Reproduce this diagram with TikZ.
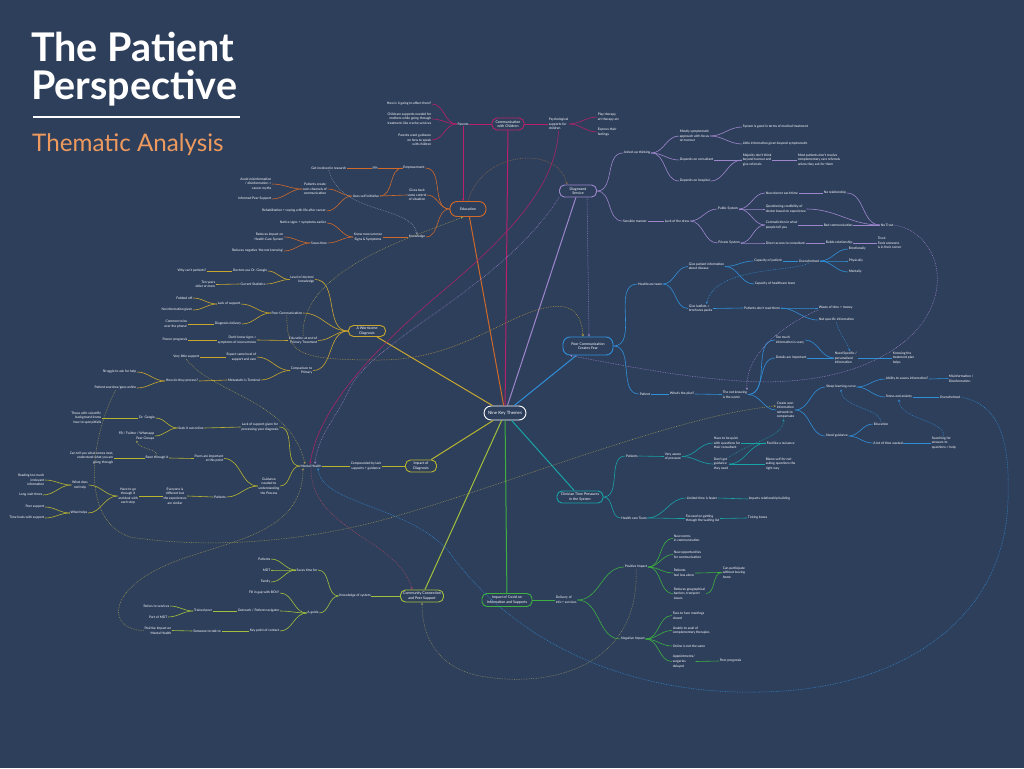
\documentclass[tikz,border=0pt]{standalone}
\usepackage{fontspec}
\setmainfont{Lato}
\usetikzlibrary{arrows.meta}
\definecolor{bg}{HTML}{2E3F5C}
\definecolor{cM}{HTML}{B8206A}
\definecolor{cO}{HTML}{CF6A2A}
\definecolor{cP}{HTML}{9E86CC}
\definecolor{cG}{HTML}{C9A62E}
\definecolor{cB}{HTML}{2F8FD8}
\definecolor{cY}{HTML}{B7B530}
\definecolor{cT}{HTML}{18A3A6}
\definecolor{cV}{HTML}{A3C03C}
\definecolor{cN}{HTML}{3DB040}
\definecolor{cGr}{HTML}{8A929E}
\definecolor{cBr}{HTML}{9A6A45}
\definecolor{cOl}{HTML}{A09C50}
\definecolor{cRd}{HTML}{B04A5E}
\definecolor{ttlor}{HTML}{EE9A5E}
\newcommand\smf{\fontsize{3.3}{4.6}\selectfont}
\newcommand\bxf{\fontsize{3.6}{4.6}\selectfont}
\newcommand\bxlf{\fontsize{4.4}{5}\selectfont}
\begin{document}
\begin{tikzpicture}[x=1pt,y=-1pt,
 txt/.style={text=white,font=\smf,inner sep=0.6pt},
 txl/.style={txt,anchor=east,align=right},
 txr/.style={txt,anchor=west,align=left},
 txc/.style={txt,align=center},
 tbox/.style={draw,line width=0.9pt,rounded corners=5pt,fill=bg,text=white,font=\bxf,align=center,inner sep=0.8pt},
 bz/.style={line width=0.6pt},
 lnM/.style={bz,draw=cM}, lnO/.style={bz,draw=cO}, lnP/.style={bz,draw=cP},
 lnG/.style={bz,draw=cG}, lnB/.style={bz,draw=cB}, lnY/.style={bz,draw=cY},
 lnT/.style={bz,draw=cT}, lnV/.style={bz,draw=cV}, lnN/.style={bz,draw=cN},
 mainln/.style={line width=1pt},
 dl/.style={line width=0.5pt,dash pattern=on 0.7pt off 1pt,-{Stealth[length=2.4pt,width=2.2pt]}},
 sl/.style={line width=0.5pt,-{Stealth[length=2.4pt,width=2.2pt]}}
]
\fill[bg] (0,0) rectangle (1024,768);
\useasboundingbox (0,0) rectangle (1024,768);

% ---------------- title
\node[anchor=base west,text=white,font=\fontsize{39.5}{42}\selectfont\bfseries,inner sep=0] (ttla) at (31,62) {The Patient};
\node[anchor=base west,text=white,font=\fontsize{39.5}{42}\selectfont\bfseries,inner sep=0] (ttlb) at (31,99) {Perspective};
\coordinate (rulea) at (33,117);
\coordinate (ruleb) at (240,117);
\draw[white,line width=1.3pt] (rulea) -- (ruleb);
\node[anchor=base west,text=ttlor,font=\fontsize{24.2}{27}\selectfont,inner sep=0] (ttlc) at (32,151) {Thematic Analysis};

% ---------------- central and themes
\node[tbox,draw=white,font=\bxlf,minimum width=42pt,minimum height=14pt,rounded corners=7pt] (nkt) at (505,413) {Nine Key Themes};
\node[tbox,draw=cM,minimum width=32pt,minimum height=12pt] (cwc) at (508,124) {Communication\\with Children};
\node[tbox,draw=cO,minimum width=36pt,minimum height=15pt,rounded corners=7pt] (edu) at (468,209) {Education};
\node[tbox,draw=cP,minimum width=37pt,minimum height=12pt] (ds) at (578,191) {Diagnosed\\Service};
\node[tbox,draw=cG,minimum width=37pt,minimum height=11pt] (wd) at (367,331) {A Worrisome\\Diagnosis};
\node[tbox,draw=cB,minimum width=50pt,minimum height=18pt,rounded corners=7pt] (pccf) at (588,346) {Poor Communication\\Creates Fear};
\node[tbox,draw=cY,minimum width=31pt,minimum height=12pt] (iod) at (421,466) {Impact of\\Diagnosis};
\node[tbox,draw=cT,minimum width=46pt,minimum height=12pt] (ctp) at (580,497) {Clinician Time Pressures\\in the System};
\node[tbox,draw=cV,minimum width=43pt,minimum height=12pt] (ccps) at (422,596) {Community Connection\\and Peer Support};
\node[tbox,draw=cN,minimum width=50pt,minimum height=13pt] (icov) at (507,600) {Impact of Covid on\\Information and Supports};

\draw[mainln,draw=cM] (cwc) -- (nkt);
\draw[mainln,draw=cO] (edu) -- (nkt);
\draw[mainln,draw=cP] (ds) -- (nkt);
\draw[mainln,draw=cG] (wd) -- (nkt);
\draw[mainln,draw=cB] (pccf) -- (nkt);
\draw[mainln,draw=cY] (iod) -- (nkt);
\draw[mainln,draw=cT] (ctp) -- (nkt);
\draw[mainln,draw=cV] (ccps) -- (nkt);
\draw[mainln,draw=cN] (icov) -- (nkt);

% ---------------- Communication with Children
\node[txc] (par) at (463,124) {Parents};
\node[txl] (p1) at (432,104) {How is it going to affect them?};
\node[txl] (p2) at (432,119) {Childcare supports needed for\\mothers while going through\\treatment, like creche services};
\node[txl] (p3) at (432,140) {Parents want guidance\\on how to speak\\with children};
\node[txr] (psy) at (548,124) {Psychological\\supports for\\children};
\node[txr] (pl) at (597,117) {Play therapy,\\art therapy etc};
\node[txr] (ex) at (597,132) {Express their\\feelings};
\draw[lnM] (cwc.west) -- (par.east);
\foreach \c in {p1,p2,p3} \draw[lnM] (par.west) to[out=180,in=0] (\c.east);
\draw[lnM] (cwc.east) -- (psy.west);
\foreach \c in {pl,ex} \draw[lnM] (psy.east) to[out=0,in=180] (\c.west);

% ---------------- Education
\node[txc] (emp) at (414,168) {Empowerment};
\node[txc] (gbc) at (417,195) {Gives back\\some control\\of situation};
\node[txc] (kno) at (417,237) {Knowledge};
\node[txc] (ppi) at (375,168) {PPI};
\node[txl] (gir) at (347,168) {Get involved in research};
\node[txc] (usi) at (366,196) {Uses self initiative};
\node[txc] (pco) at (315,189) {Patients create\\own channels of\\communication};
\node[txl] (am) at (272,184) {Avoid misinformation\\/ disinformation =\\cancer myths};
\node[txl] (ips) at (272,199) {Informed Peer Support};
\node[txc] (reh) at (294,211) {Rehabilitation + coping with life after cancer};
\node[txc] (krs) at (368,237) {Know reoccurrence\\Signs \& Symptoms};
\node[txc] (nse) at (303,223) {Notice signs + symptoms earlier};
\node[txc] (sav) at (319,243) {Saves time};
\node[txl] (rih) at (284,237) {Reduces impact on\\Health Care System};
\node[txl] (rnn) at (284,251) {Reduces negative `the not knowing'};
\foreach \c in {emp,gbc,kno} \draw[lnO] (edu.west) to[out=180,in=0] (\c.east);
\draw[lnO] (emp.west) -- (ppi.east);
\draw[lnO] (ppi.west) -- (gir.east);
\draw[lnO] (gbc.west) -- (usi.east);
\draw[lnO] (emp.west) to[out=180,in=0] (usi.east);
\foreach \c in {pco,reh} \draw[lnO] (usi.west) to[out=180,in=0] (\c.east);
\foreach \c in {am,ips} \draw[lnO] (pco.west) to[out=180,in=0] (\c.east);
\draw[lnO] (kno.west) -- (krs.east);
\foreach \c in {nse,sav} \draw[lnO] (krs.west) to[out=180,in=0] (\c.east);
\foreach \c in {rih,rnn} \draw[lnO] (sav.west) to[out=180,in=0] (\c.east);

% ---------------- Diagnosed Service
\node[txc] (jut) at (637,153) {Joined-up thinking};
\node[txc] (sen) at (635,221) {Sensible manner};
\node[txr] (msa) at (679,136) {Mostly symptomatic\\approach with focus\\on tumour};
\node[txr] (doc) at (679,160) {Depends on consultant};
\node[txr] (doh) at (679,181) {Depends on hospital};
\node[txr] (sys) at (742,127) {System is good in terms of medical treatment};
\node[txr] (lig) at (742,144) {Little information given beyond symptomatic};
\node[txr] (maj) at (742,160) {Majority don't think\\beyond tumour and\\give referrals};
\node[txr] (mpc) at (797,160) {Most patients don't receive\\complementary care referrals\\unless they ask for them};
\node[txc] (lod) at (677,221) {Luck of the draw};
\node[txc] (pub) at (728,209) {Public System};
\node[txc] (pri) at (729,243) {Private System};
\node[txr] (ndr) at (765,193) {New doctor each time};
\node[txr] (qcd) at (765,209) {Questioning credibility of\\doctor based on experience};
\node[txr] (con) at (765,225) {Contradiction in what\\people tell you};
\node[txr] (dac) at (765,243) {Direct access to consultant};
\node[txr] (nrl) at (823,193) {No relationship};
\node[txr] (bad) at (823,225) {Bad communication};
\node[txr] (ntr) at (880,225) {No Trust};
\node[txr] (bre) at (825,243) {Builds relationship};
\node[txr] (tru) at (877,243) {Trust:\\Feels someone\\is in their corner};
\foreach \c in {jut,sen} \draw[lnP] (ds.east) to[out=0,in=180] (\c.west);
\foreach \c in {msa,doc,doh} \draw[lnP] (jut.east) to[out=0,in=180] (\c.west);
\foreach \c in {sys,lig} \draw[lnP] (msa.east) to[out=0,in=180] (\c.west);
\draw[lnP] (doc.east) -- (maj.west);
\draw[lnP] (doh.east) to[out=0,in=180] (maj.west);
\draw[lnP] (maj.east) -- (mpc.west);
\draw[lnP] (sen.east) -- (lod.west);
\foreach \c in {pub,pri} \draw[lnP] (lod.east) to[out=0,in=180] (\c.west);
\foreach \c in {ndr,qcd,con} \draw[lnP] (pub.east) to[out=0,in=180] (\c.west);
\foreach \c in {con,dac} \draw[lnP] (pri.east) to[out=0,in=180] (\c.west);
\draw[lnP] (ndr.east) -- (nrl.west);
\draw[lnP] (con.east) -- (bad.west);
\draw[lnP] (bad.east) -- (ntr.west);
\draw[lnP] (nrl.east) to[out=0,in=180] (ntr.west);
\draw[lnP] (qcd.east) to[out=0,in=180] (ntr.west);
\draw[lnP] (dac.east) -- (bre.west);
\draw[lnP] (bre.east) -- (tru.west);

% ---------------- A Worrisome Diagnosis
\node[txl] (ldk) at (315,279.5) {Level of doctors'\\knowledge};
\node[txl] (pcm) at (303,313) {Poor Communication};
\node[txl] (eep) at (318,340.5) {Education at end of\\Primary Treatment};
\node[txl] (cpr) at (313,370.5) {Comparison to\\Primary};
\node[txc] (dug) at (250,271) {Doctors use Dr. Google};
\node[txc] (cst) at (253,284) {Current Statistics};
\node[txl] (wcp) at (207,271) {Why can't patients?};
\node[txl] (tyo) at (216,284.5) {Ten years\\older or more};
\node[txc] (los) at (229,304) {Lack of support};
\node[txc] (ddl) at (228,324) {Diagnosis delivery};
\node[txl] (fob) at (193,298) {Fobbed off};
\node[txl] (nig) at (193,310) {No information given};
\node[txl] (cop) at (188,324) {Common to be\\over the phone!};
\node[txl] (dks) at (257,340) {Don't know signs =\\symptoms of reoccurrence};
\node[txl] (ppg) at (188,340) {Poorer prognosis};
\node[txl] (esl) at (257,357) {Expect same level of\\support and care};
\node[txc] (mit) at (244,380) {Metastatic is Terminal};
\node[txl] (vls) at (200,357) {Very little support};
\node[txc] (hdp) at (182,381) {How do they process?};
\node[txl] (sah) at (137,372) {Struggle to ask for help};
\node[txl] (pso) at (137,388) {Patient searches/goes online};
\foreach \c in {ldk,pcm,eep,cpr} \draw[lnG] (wd.west) to[out=180,in=0] (\c.east);
\foreach \c in {dug,cst} \draw[lnG] (ldk.west) to[out=180,in=0] (\c.east);
\draw[lnG] (dug.west) -- (wcp.east);
\draw[lnG] (cst.west) -- (tyo.east);
\foreach \c in {los,ddl} \draw[lnG] (pcm.west) to[out=180,in=0] (\c.east);
\foreach \c in {fob,nig} \draw[lnG] (los.west) to[out=180,in=0] (\c.east);
\draw[lnG] (ddl.west) -- (cop.east);
\draw[lnG] (eep.west) -- (dks.east);
\draw[lnG] (dks.west) -- (ppg.east);
\foreach \c in {esl,mit} \draw[lnG] (cpr.west) to[out=180,in=0] (\c.east);
\draw[lnG] (esl.west) -- (vls.east);
\draw[lnG] (mit.west) -- (hdp.east);
\foreach \c in {sah,pso} \draw[lnG] (hdp.west) to[out=180,in=0] (\c.east);

% ---------------- Impact of Diagnosis / Mental Health
\node[txc] (cbl) at (366,466) {Compounded by lack\\supports + guidance};
\node[txc] (mh) at (311,466) {Mental Health};
\node[txc] (lsg) at (260,427) {Lack of support given for\\processing your diagnosis};
\node[txc] (gnu) at (269,486) {Guidance\\needed to\\understanding\\the Process};
\node[txc] (sio) at (191,428) {Seek it out online};
\node[txc] (dgo) at (147,418) {Dr. Google};
\node[txl] (fbt) at (155,436) {FB / Twitter / Whatsapp\\Peer Groups};
\node[txl] (tsb) at (102,418) {Those with scientific\\background know\\how to spot pitfalls};
\node[txl] (pai) at (224,458.5) {Peers are important\\at this point};
\node[txc] (pat) at (220,497) {Patients};
\node[txc] (btt) at (157,458) {Been through it};
\node[txl] (ctn) at (114,458) {Can tell you what comes next,\\understand what you are\\going through};
\node[txc] (edb) at (175,496) {Everyone is\\different but\\the experiences\\are similar};
\node[txc] (htg) at (128,496) {Have to go\\through it\\and deal with\\each step};
\node[txc] (wdn) at (80,485) {What does\\not help};
\node[txc] (whp) at (79,513) {What helps};
\node[txl] (rtm) at (45,480) {Reading too much\\irrelevant\\information};
\node[txl] (lwt) at (43,495) {Long wait times};
\node[txl] (psp) at (45,507) {Peer support};
\node[txl] (thw) at (45,518) {Time heals with support};
\draw[lnY] (iod.west) -- (cbl.east);
\draw[lnY] (cbl.west) -- (mh.east);
\foreach \c in {lsg,gnu} \draw[lnY] (mh.west) to[out=180,in=0] (\c.east);
\draw[lnY] (lsg.west) -- (sio.east);
\foreach \c in {dgo,fbt} \draw[lnY] (sio.west) to[out=180,in=0] (\c.east);
\draw[lnY] (dgo.west) -- (tsb.east);
\foreach \c in {pai,pat} \draw[lnY] (gnu.west) to[out=180,in=0] (\c.east);
\draw[lnY] (pai.west) -- (btt.east);
\draw[lnY] (btt.west) -- (ctn.east);
\draw[lnY] (pat.west) -- (edb.east);
\draw[lnY] (edb.west) -- (htg.east);
\foreach \c in {wdn,whp} \draw[lnY] (htg.west) to[out=180,in=0] (\c.east);
\foreach \c in {rtm,lwt} \draw[lnY] (wdn.west) to[out=180,in=0] (\c.east);
\foreach \c in {psp,thw} \draw[lnY] (whp.west) to[out=180,in=0] (\c.east);

% ---------------- Poor Communication Creates Fear
\node[txc] (hct) at (650,284) {Healthcare team};
\node[txc] (ptn) at (645,394) {Patient};
\node[txr] (gpi) at (688,266.5) {Give patient information\\about disease};
\node[txr] (glb) at (688,308.5) {Give leaflets =\\brochures packs};
\node[txc] (cpa) at (768,261) {Capacity of patient};
\node[txc] (chc) at (775,284) {Capacity of healthcare team};
\node[txc] (ovw) at (809,261) {Overwhelmed};
\node[txr] (emo) at (848,249) {Emotionally};
\node[txr] (phy) at (848,261) {Physically};
\node[txr] (men) at (848,272) {Mentally};
\node[txc] (pdr) at (762,308) {Patients don't read them};
\node[txr] (wtm) at (818,308) {Waste of time + money};
\node[txr] (nsi) at (818,320) {Not specific information};
\node[txc] (wtp) at (682,394) {What's the plan?};
\node[txr] (tnk) at (722,394.5) {The not knowing\\is the worst};
\node[txr] (tmi) at (775,340) {Too much\\information is scary};
\node[txr] (dai) at (775,358) {Details are important};
\node[txr] (coi) at (776,410) {Create own\\information\\network to\\compensate};
\node[txr] (nsp) at (834,358) {Need Specific /\\personalised\\information};
\node[txr] (ktp) at (892,358) {Knowing the\\treatment plan\\helps};
\node[txc] (slc) at (841,387) {Steep learning curve};
\node[txc] (ngd) at (837,436) {Need guidance};
\node[txc] (aai) at (907,379) {Ability to assess information?};
\node[txc] (saa) at (899,397) {Stress and anxiety};
\node[txr] (mdi) at (948,378.5) {Misinformation /\\Disinformation};
\node[txc] (ov2) at (950,397) {Overwhelmed};
\node[txr] (edn) at (873,424) {Education};
\node[txc] (ltw) at (888,443) {A lot of time wasted};
\node[txr] (sfa) at (931,443) {Searching for\\answers to\\questions = help};
\foreach \c in {hct,ptn} \draw[lnB] (pccf.east) to[out=0,in=180] (\c.west);
\foreach \c in {gpi,glb} \draw[lnB] (hct.east) to[out=0,in=180] (\c.west);
\foreach \c in {cpa,chc} \draw[lnB] (gpi.east) to[out=0,in=180] (\c.west);
\draw[lnB] (cpa.east) -- (ovw.west);
\foreach \c in {emo,phy,men} \draw[lnB] (ovw.east) to[out=0,in=180] (\c.west);
\draw[lnB] (glb.east) -- (pdr.west);
\foreach \c in {wtm,nsi} \draw[lnB] (pdr.east) to[out=0,in=180] (\c.west);
\draw[lnB] (ptn.east) -- (wtp.west);
\draw[lnB] (wtp.east) -- (tnk.west);
\foreach \c in {tmi,dai,coi} \draw[lnB] (tnk.east) to[out=0,in=180] (\c.west);
\draw[lnB] (tmi.east) to[out=0,in=180] (nsp.west);
\draw[lnB] (dai.east) -- (nsp.west);
\draw[lnB] (nsp.east) -- (ktp.west);
\foreach \c in {slc,ngd} \draw[lnB] (coi.east) to[out=0,in=180] (\c.west);
\foreach \c in {aai,saa} \draw[lnB] (slc.east) to[out=0,in=180] (\c.west);
\draw[lnB] (aai.east) -- (mdi.west);
\draw[lnB] (saa.east) -- (ov2.west);
\foreach \c in {edn,ltw} \draw[lnB] (ngd.east) to[out=0,in=180] (\c.west);
\draw[lnB] (ltw.east) -- (sfa.west);

% ---------------- Clinician Time Pressures
\node[txc] (cpt) at (632,456) {Patients};
\node[txc] (hc2) at (634,518) {Health care Team};
\node[txr] (vap) at (664,456.5) {Very aware\\of pressure};
\node[txr] (htb) at (713,443) {Have to be quick\\with questions for\\their consultant};
\node[txr] (dgg) at (713,464) {Don't get\\guidance\\they need};
\node[txr] (fln) at (766,443) {Feel like a nuisance};
\node[txr] (bsf) at (765,464) {Blame self for not\\asking questions the\\right way};
\node[txr] (ltf) at (686,498) {Limited time is faster};
\node[txr] (irb) at (748,499) {Impacts relationship building};
\node[txr] (fog) at (685,518.5) {Focused on getting\\through the waiting list};
\node[txr] (tbx) at (747,518) {Ticking boxes};
\foreach \c in {cpt,hc2} \draw[lnT] (ctp.east) to[out=0,in=180] (\c.west);
\draw[lnT] (cpt.east) -- (vap.west);
\foreach \c in {htb,dgg} \draw[lnT] (vap.east) to[out=0,in=180] (\c.west);
\draw[lnT] (htb.east) -- (fln.west);
\draw[lnT] (dgg.east) to[out=0,in=180] (fln.west);
\draw[lnT] (dgg.east) -- (bsf.west);
\foreach \c in {ltf,fog} \draw[lnT] (hc2.east) to[out=0,in=180] (\c.west);
\draw[lnT] (ltf.east) -- (irb.west);
\draw[lnT] (fog.east) -- (tbx.west);

% ---------------- Community Connection
\node[txc] (kos) at (355,596) {Knowledge of system};
\node[txc] (stf) at (307,570) {Saves time for};
\node[txc] (agd) at (313,613) {A guide};
\node[txl] (cp2) at (271,559) {Patients};
\node[txl] (mdt) at (271,570) {MDT};
\node[txl] (fam) at (271,582) {Family};
\node[txl] (fig) at (280,593) {Fill in gap with BCN?};
\node[txl] (onv) at (280,611) {Outreach / Patient navigator};
\node[txl] (kpc) at (280,631) {Key point of contact};
\node[txc] (tpe) at (203,611) {Trained peer};
\node[txl] (rfs) at (170,606) {Refers to services};
\node[txl] (pmd) at (168,617) {Part of MDT};
\node[txc] (stt) at (207,631) {Someone to talk to};
\node[txl] (pim) at (172,630.5) {Positive Impact on\\Mental Health};
\draw[lnV] (ccps.west) -- (kos.east);
\foreach \c in {stf,agd} \draw[lnV] (kos.west) to[out=180,in=0] (\c.east);
\foreach \c in {cp2,mdt,fam} \draw[lnV] (stf.west) to[out=180,in=0] (\c.east);
\foreach \c in {fig,onv,kpc} \draw[lnV] (agd.west) to[out=180,in=0] (\c.east);
\draw[lnV] (onv.west) -- (tpe.east);
\foreach \c in {rfs,pmd} \draw[lnV] (tpe.west) to[out=180,in=0] (\c.east);
\draw[lnV] (kpc.west) -- (stt.east);
\draw[lnV] (stt.west) -- (pim.east);

% ---------------- Impact of Covid
\node[txr] (dis) at (555,600) {Delivery of\\info + services};
\node[txc] (poi) at (636,567) {Positive Impact};
\node[txc] (nei) at (633,639) {Negative Impact};
\node[txr] (nnc) at (673,538.5) {New norms\\in communication};
\node[txr] (nop) at (673,554.5) {New opportunities\\for communication};
\node[txr] (pfl) at (673,573) {Patients\\feel less alone};
\node[txr] (rgb) at (673,593.5) {Reduces geographical\\barriers, transport\\issues};
\node[txr] (cpw) at (722,572.5) {Can participate\\without leaving\\home};
\node[txr] (ffm) at (672,615.5) {Face to face meetings\\closed};
\node[txr] (uac) at (672,630.5) {Unable to avail of\\complementary therapies};
\node[txr] (oin) at (672,646) {Online is not the same};
\node[txr] (asd) at (672,661.5) {Appointments/\\surgeries\\delayed};
\node[txr] (ppr) at (719,661) {Poor prognosis};
\draw[lnN] (icov.east) -- (dis.west);
\foreach \c in {poi,nei} \draw[lnN] (dis.east) to[out=0,in=180] (\c.west);
\foreach \c in {nnc,nop,pfl,rgb} \draw[lnN] (poi.east) to[out=0,in=180] (\c.west);
\draw[lnN] (pfl.east) to[out=0,in=180] (cpw.west);
\draw[lnN] (rgb.east) to[out=0,in=180] (cpw.west);
\foreach \c in {ffm,uac,oin,asd} \draw[lnN] (nei.east) to[out=0,in=180] (\c.west);
\draw[lnN] (asd.east) -- (ppr.west);

% ---------------- cross links
\draw[sl,draw=cM] (par.south) -- ([xshift=-5pt]edu.north);
\draw[sl,draw=cM] (psy.south) .. controls (556,180) and (520,225) .. (450,285) .. controls (390,335) and (320,400) .. ([xshift=-1pt]mh.north);
\draw[dl,draw=cGr] (gir.south) .. controls (340,215) and (412,205) .. (kno.north);
\draw[dl,draw=cBr] (edu.north) .. controls (482,150) and (558,145) .. ([xshift=-11pt]ds.north);
\draw[dl,draw=cOl] (eep.north) .. controls (300,268) and (420,235) .. ([xshift=-5pt]edu.south);
\draw[dl,draw=cG!80!gray] (pcm.south) .. controls (286,355) and (300,360) .. (380,360) .. controls (470,360) and (520,300) .. (565,307) .. controls (578,310) and (582,322) .. ([xshift=-5pt]pccf.north);
\draw[dl,draw=cP] ([xshift=9pt]ds.south) -- ([xshift=1pt]pccf.north);
\draw[dl,draw=cP] (ds.south west) .. controls (500,290) and (370,340) .. (348,392) .. controls (335,420) and (318,435) .. ([xshift=4pt]mh.north);
\draw[dl,draw=cP] (ntr.east) .. controls (940,232) and (960,300) .. (900,345) .. controls (860,375) and (800,385) .. (740,381) .. controls (680,377) and (620,365) .. ([xshift=-18pt]pccf.south);
\draw[dl,draw=cB] (ovw.south) .. controls (795,272) and (715,266) .. ([xshift=6pt]glb.north);
\draw[dl,draw=cP] ([yshift=-2pt]wtm.west) .. controls (790,322) and (745,350) .. ([xshift=12pt]tnk.north);
\draw[dl,draw=cB] (nsi.south) .. controls (840,335) and (845,338) .. ([xshift=4pt]nsp.north);
\draw[dl,draw=cB] (edn.north) .. controls (880,408) and (842,408) .. (slc.south);
\draw[dl,draw=cB] (sfa.north) .. controls (945,420) and (900,420) .. (saa.south);
\draw[dl,draw=cT] (dgg.north east) .. controls (755,440) and (783,437) .. ([xshift=-2pt]coi.south);
\draw[dl,draw=cOl] (pso.south) .. controls (90,440) and (80,520) .. (130,537) .. controls (200,548) and (300,545) .. (400,515) .. controls (520,480) and (680,415) .. ([yshift=4pt]coi.west);
\draw[dl,draw=cB] (ov2.east) .. controls (1000,405) and (1010,440) .. (1008,500) .. controls (1005,620) and (900,690) .. (760,692) .. controls (640,695) and (520,650) .. (450,553) .. controls (410,505) and (322,505) .. ([xshift=7pt]mh.south);
\draw[dl,draw=cOl] (btt.north) .. controls (157,448) and (140,450) .. (fbt.south);
\draw[dl,draw=cOl] (vls.south) .. controls (215,395) and (290,400) .. ([xshift=-6pt]mh.north);
\draw[dl,draw=cOl] (pim.west) .. controls (110,630) and (105,595) .. (160,568) .. controls (215,541) and (303,540) .. ([xshift=-8pt]mh.south);
\draw[dl,draw=cRd] (mh.south) .. controls (310,530) and (400,540) .. ([xshift=-10pt]ccps.north);
\draw[dl,draw=cOl!70!gray] (poi.south) .. controls (640,660) and (560,690) .. (480,676) .. controls (440,668) and (422,640) .. (ccps.south);
\end{tikzpicture}
\end{document}
